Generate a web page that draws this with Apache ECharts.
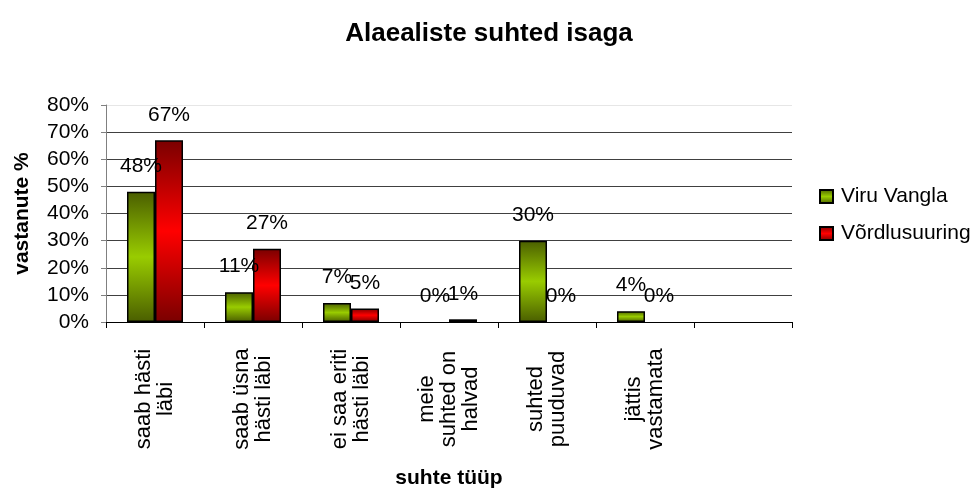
<!DOCTYPE html>
<html>
<head>
<meta charset="utf-8">
<script src="https://cdn.jsdelivr.net/npm/echarts@6/dist/echarts.min.js"></script>
<style>
  html, body { margin: 0; padding: 0; background: #fff; }
  #chartDiv { width: 978px; height: 491px; }
</style>
</head>
<body>
<div id="chartDiv"></div>
<script>
var categories = [
  "saab hästi\nläbi",
  "saab üsna\nhästi läbi",
  "ei saa eriti\nhästi läbi",
  "meie\nsuhted on\nhalvad",
  "suhted\npuuduvad",
  "jättis\nvastamata",
  ""
];
var viruVangla = [48, 11, 7, 0, 30, 4, null];
var vordlus = [67, 27, 5, 1, 0, 0, null];
var yTicks = [0, 10, 20, 30, 40, 50, 60, 70, 80];

var myChart = echarts.init(document.getElementById("chartDiv"));

var font = "'Liberation Sans', Arial, sans-serif";

function grad(dark, light) {
  return new echarts.graphic.LinearGradient(0, 0, 0, 1, [
    { offset: 0, color: dark },
    { offset: 0.5, color: light },
    { offset: 1, color: dark }
  ]);
}

// zero bars have no visible outline in the original
function toData(arr) {
  return arr.map(function (v) {
    if (v === 0) return { value: 0, itemStyle: { borderWidth: 0, opacity: 0 } };
    return v;
  });
}

var labelOpt = {
  show: true,
  position: "top",
  distance: 15,
  formatter: "{c}%",
  color: "#000",
  fontFamily: font,
  fontSize: 21,
  opacity: 1
};

var option = {
  animation: false,
  backgroundColor: "#fff",
  textStyle: { fontFamily: font },
  title: {
    text: "Alaealiste suhted isaga",
    left: "center",
    top: 16,
    textStyle: { fontFamily: font, fontSize: 26, fontWeight: "bold", color: "#000" }
  },
  legend: {
    orient: "vertical",
    left: 814,
    top: 181,
    itemWidth: 13,
    itemHeight: 13,
    itemGap: 16,
    icon: "rect",
    textStyle: { fontFamily: font, fontSize: 21, color: "#000", padding: [0, 0, 0, 3] },
    data: ["Viru Vangla", "Võrdlusuuring"]
  },
  grid: { left: 106, right: 186, top: 105, bottom: 169, containLabel: false, outerBoundsMode: "none" },
  xAxis: {
    type: "category",
    data: categories,
    name: "suhte tüüp",
    nameLocation: "middle",
    nameGap: 146,
    nameTextStyle: { fontFamily: font, fontSize: 21, fontWeight: "bold", color: "#000" },
    axisLine: { lineStyle: { color: "#000", width: 1 } },
    axisTick: { show: true, length: 6, lineStyle: { color: "#000" } },
    axisLabel: {
      interval: 0,
      rotate: 90,
      align: "center",
      verticalAlign: "middle",
      margin: 77,
      lineHeight: 22,
      padding: [0, 0, 6, 0],
      fontFamily: font,
      fontSize: 22,
      color: "#000"
    }
  },
  yAxis: {
    type: "value",
    min: 0,
    max: 80,
    interval: 10,
    name: "vastanute %",
    nameLocation: "middle",
    nameGap: 73,
    nameTextStyle: { fontFamily: font, fontSize: 21, fontWeight: "bold", color: "#000" },
    axisLine: { show: true, lineStyle: { color: "#808080" } },
    axisTick: { show: true, length: 5, lineStyle: { color: "#808080" } },
    axisLabel: {
      formatter: function (v) { return yTicks.indexOf(v) >= 0 ? v + "%" : ""; },
      margin: 17,
      fontFamily: font,
      fontSize: 21,
      color: "#000"
    },
    splitLine: {
      show: true,
      lineStyle: {
        color: ["#000", "#404040", "#404040", "#404040", "#404040", "#404040", "#404040", "#404040", "#e6e6e6"],
        width: 1
      }
    }
  },
  series: [
    {
      name: "Viru Vangla",
      type: "bar",
      data: toData(viruVangla),
      barWidth: 28,
      barGap: "0%",
      itemStyle: { color: grad("#4a5e00", "#99cc00"), borderColor: "#000", borderWidth: 1.5 },
      label: labelOpt
    },
    {
      name: "Võrdlusuuring",
      type: "bar",
      data: toData(vordlus),
      barWidth: 28,
      barGap: "0%",
      itemStyle: { color: grad("#7a0000", "#ff0000"), borderColor: "#000", borderWidth: 1.5 },
      label: labelOpt
    }
  ]
};

myChart.setOption(option);

window.addEventListener("resize", function () {
  myChart.resize();
});
</script>
</body>
</html>
